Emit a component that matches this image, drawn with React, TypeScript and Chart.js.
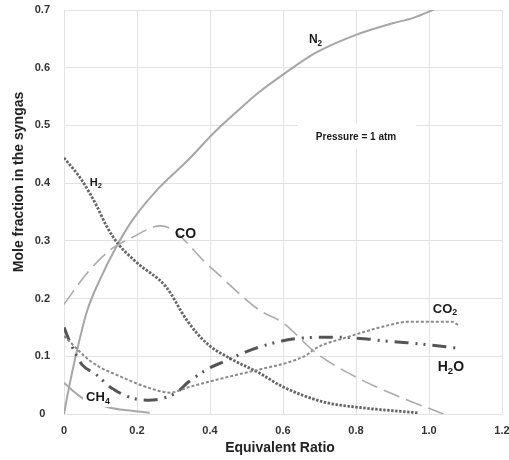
import React, { useEffect, useRef } from "react";
import { Chart, registerables } from "chart.js";

Chart.register(...registerables);

const FONT = "'Liberation Sans', Arial, sans-serif";

// Axis ticks
const xTickValues = [0, 0.2, 0.4, 0.6, 0.8, 1.0, 1.2];
const xTickLabels = ["0", "0.2", "0.4", "0.6", "0.8", "1.0", "1.2"];
const yTickValues = [0, 0.1, 0.2, 0.3, 0.4, 0.5, 0.6, 0.7];
const yTickLabels = ["0", "0.1", "0.2", "0.3", "0.4", "0.5", "0.6", "0.7"];

// N2
const n2X = [0, 0.015, 0.032, 0.063, 0.1, 0.148, 0.19, 0.262, 0.34, 0.41, 0.47, 0.535, 0.6, 0.69, 0.8, 0.9, 0.955, 1.03];
const n2Y = [0, 0.05, 0.1, 0.178, 0.235, 0.295, 0.338, 0.393, 0.44, 0.487, 0.522, 0.558, 0.588, 0.626, 0.657, 0.677, 0.686, 0.705];

// H2
const h2X = [0, 0.049, 0.09, 0.117, 0.148, 0.2, 0.28, 0.336, 0.39, 0.462, 0.535, 0.6, 0.71, 0.8, 0.97];
const h2Y = [0.444, 0.405, 0.36, 0.325, 0.295, 0.262, 0.22, 0.163, 0.123, 0.094, 0.071, 0.047, 0.021, 0.012, 0.002];

// CO
const coX = [0, 0.063, 0.126, 0.19, 0.245, 0.265, 0.4, 0.535, 0.6, 0.69, 0.8, 0.918, 1.04];
const coY = [0.19, 0.244, 0.284, 0.307, 0.324, 0.326, 0.255, 0.18, 0.158, 0.106, 0.064, 0.03, 0.0];

// CO2
const co2X = [0, 0.076, 0.158, 0.249, 0.29, 0.344, 0.435, 0.527, 0.617, 0.664, 0.69, 0.78, 0.81, 0.89, 0.945, 1.03, 1.063, 1.08];
const co2Y = [0.135, 0.09, 0.064, 0.042, 0.037, 0.047, 0.062, 0.076, 0.09, 0.102, 0.114, 0.134, 0.14, 0.154, 0.16, 0.16, 0.16, 0.154];

// H2O
const h2oX = [0, 0.016, 0.05, 0.085, 0.13, 0.19, 0.23, 0.27, 0.31, 0.34, 0.4, 0.435, 0.5, 0.535, 0.6, 0.64, 0.74, 0.83, 0.87, 0.95, 0.98, 1.08];
const h2oY = [0.15, 0.125, 0.085, 0.07, 0.045, 0.027, 0.024, 0.027, 0.038, 0.055, 0.08, 0.09, 0.108, 0.116, 0.127, 0.131, 0.133, 0.13, 0.127, 0.123, 0.121, 0.114];

// CH4
const ch4X = [0, 0.025, 0.049, 0.08, 0.126, 0.18, 0.235];
const ch4Y = [0.054, 0.04, 0.028, 0.02, 0.011, 0.006, 0.002];

// Curve labels: [main text, subscript, trailing text]
const labelParts: [string, string, string][] = [
  ["N", "2", ""],
  ["H", "2", ""],
  ["CO", "", ""],
  ["CO", "2", ""],
  ["H", "2", "O"],
  ["CH", "4", ""],
];
const labelX = [0.689, 0.087, 0.333, 1.044, 1.06, 0.093];
const labelY = [0.648, 0.4, 0.312, 0.182, 0.081, 0.028];
const labelSize = [12, 11, 14, 13, 14, 13];
const labelBox = [false, false, false, false, false, true];

const noteText = "Pressure = 1 atm";
const noteX = 0.8;
const noteY = 0.48;

const xTitle = "Equivalent Ratio";
const yTitle = "Mole fraction in the syngas";
const yTitleAt = 0.402;

const zip = (xs: number[], ys: number[]) => xs.map((x, i) => ({ x, y: ys[i] }));

function drawChem(ctx: CanvasRenderingContext2D, parts: [string, string, string], cx: number, cy: number, size: number, box: boolean) {
  const sub = size * 0.68;
  const segs: [string, boolean][] = [[parts[0], false], [parts[1], true], [parts[2], false]];
  const widths = segs.map(([t, s]) => {
    ctx.font = `bold ${s ? sub : size}px ${FONT}`;
    return ctx.measureText(t).width;
  });
  const w = widths.reduce((a, b) => a + b, 0);
  if (box) {
    ctx.fillStyle = "#ffffff";
    ctx.fillRect(cx - w / 2 - 3, cy - size * 0.6, w + 6, size * 1.3);
  }
  let x = cx - w / 2;
  ctx.textAlign = "left";
  ctx.textBaseline = "middle";
  ctx.fillStyle = "#1a1a1a";
  segs.forEach(([t, s], i) => {
    ctx.font = `bold ${s ? sub : size}px ${FONT}`;
    ctx.fillText(t, x, s ? cy + size * 0.28 : cy);
    x += widths[i];
  });
}

const labelPlugin = {
  id: "curveLabels",
  afterDatasetsDraw(chart: any) {
    const ctx: CanvasRenderingContext2D = chart.ctx;
    const xs = chart.scales.x;
    const ys = chart.scales.y;
    ctx.save();
    labelParts.forEach((p, i) => {
      drawChem(ctx, p, xs.getPixelForValue(labelX[i]), ys.getPixelForValue(labelY[i]), labelSize[i], labelBox[i]);
    });
    const nx = xs.getPixelForValue(noteX);
    const ny = ys.getPixelForValue(noteY);
    ctx.font = `bold 10px ${FONT}`;
    const nw = ctx.measureText(noteText).width;
    ctx.fillStyle = "#ffffff";
    ctx.fillRect(nx - nw / 2 - 18, ny - 13, nw + 38, 25);
    ctx.fillStyle = "#1a1a1a";
    ctx.textAlign = "center";
    ctx.textBaseline = "middle";
    ctx.fillText(noteText, nx, ny);
    const area = chart.chartArea;
    ctx.font = `bold 14px ${FONT}`;
    ctx.fillStyle = "#222222";
    ctx.fillText(xTitle, (area.left + area.right) / 2 - 3, 448);
    ctx.translate(19, ys.getPixelForValue(yTitleAt));
    ctx.rotate(-Math.PI / 2);
    ctx.fillText(yTitle, 0, 0);
    ctx.restore();
  },
};

export default function App() {
  const ref = useRef<HTMLCanvasElement | null>(null);
  useEffect(() => {
    if (!ref.current) return;
    const base = { pointRadius: 0, fill: false, cubicInterpolationMode: "monotone" as const };
    const chart = new Chart(ref.current, {
      type: "line",
      data: {
        datasets: [
          { ...base, label: "CO", data: zip(coX, coY), borderColor: "#ababab", borderWidth: 1.6, borderDash: [17, 7] },
          { ...base, label: "CH4", data: zip(ch4X, ch4Y), borderColor: "#a8a8a8", borderWidth: 2 },
          { ...base, label: "CO2", data: zip(co2X, co2Y), borderColor: "#8a8a8a", borderWidth: 2, borderDash: [3, 2] },
          { ...base, label: "H2O", data: zip(h2oX, h2oY), borderColor: "#555555", borderWidth: 3, borderDash: [14, 7, 2, 6, 2, 7] },
          { ...base, label: "H2", data: zip(h2X, h2Y), borderColor: "#666666", borderWidth: 2.8, borderDash: [2.5, 1.5] },
          { ...base, label: "N2", data: zip(n2X, n2Y), borderColor: "#a6a6a6", borderWidth: 2 },
        ],
      },
      options: {
        animation: false,
        responsive: false,
        layout: { padding: { top: 10, right: 7, left: 0, bottom: 0 } },
        plugins: { legend: { display: false }, tooltip: { enabled: false } },
        scales: {
          x: {
            type: "linear",
            min: 0,
            max: 1.2,
            afterBuildTicks: (s: any) => { s.ticks = xTickValues.map((v) => ({ value: v })); },
            afterFit: (s: any) => { s.height = 46; s.paddingLeft = 0; s.paddingRight = 0; },
            grid: { color: "#e2e2e2", lineWidth: 1, drawTicks: false },
            border: { display: true, color: "#e2e2e2" },
            ticks: {
              padding: 10,
              color: "#333333",
              font: { family: FONT, size: 11, weight: "bold" },
              maxRotation: 0,
              autoSkip: false,
              callback: (_v: any, i: number) => xTickLabels[i],
            },
          },
          y: {
            type: "linear",
            min: 0,
            max: 0.7,
            afterBuildTicks: (s: any) => { s.ticks = yTickValues.map((v) => ({ value: v })); },
            afterFit: (s: any) => { s.width = 64; s.paddingTop = 0; s.paddingBottom = 0; },
            grid: { color: "#e2e2e2", lineWidth: 1, drawTicks: false },
            border: { display: true, color: "#e2e2e2" },
            ticks: {
              padding: 14,
              crossAlign: "center",
              color: "#333333",
              font: { family: FONT, size: 11, weight: "bold" },
              autoSkip: false,
              callback: (_v: any, i: number) => yTickLabels[i],
            },
          },
        },
      },
      plugins: [labelPlugin],
    } as any);
    return () => chart.destroy();
  }, []);
  return (
    <div style={{ position: "fixed", left: 0, top: 0, width: 509, height: 460, background: "#ffffff" }}>
      <canvas ref={ref} width={509} height={460} style={{ display: "block", width: 509, height: 460 }} />
    </div>
  );
}
